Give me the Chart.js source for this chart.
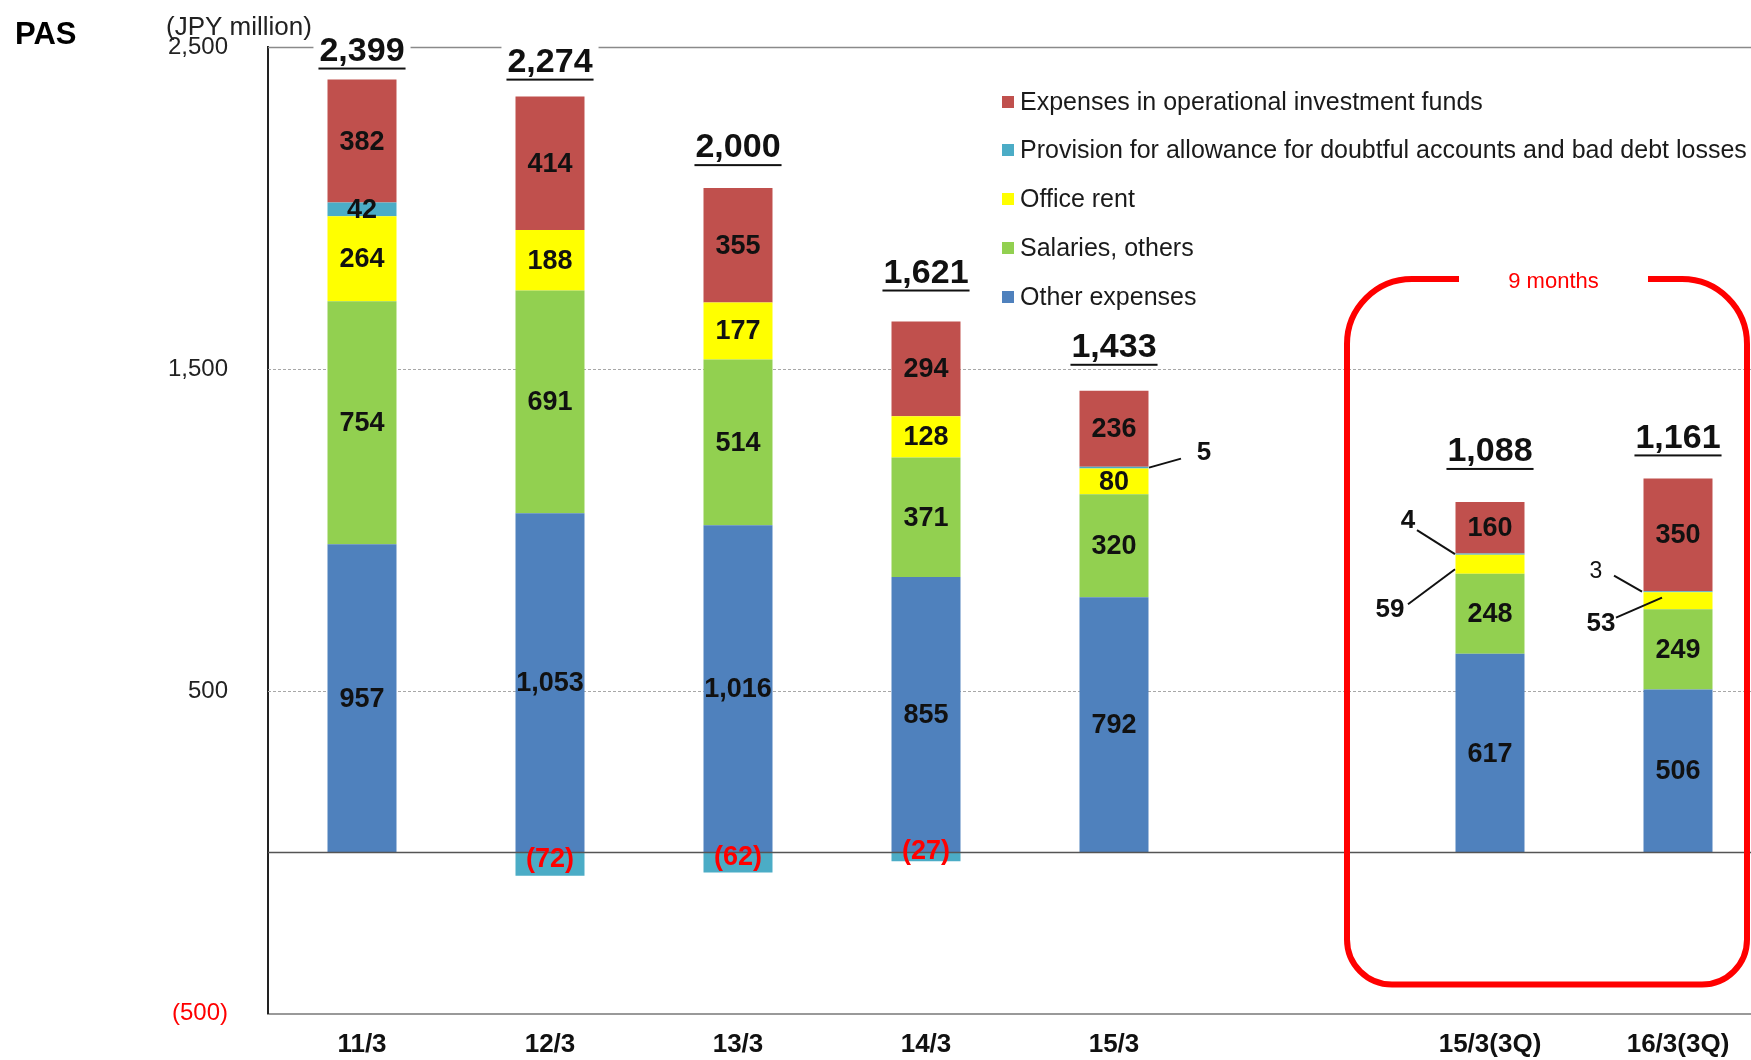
<!DOCTYPE html>
<html>
<head>
<meta charset="utf-8">
<script src="https://cdn.jsdelivr.net/npm/chart.js@4.4.0/dist/chart.umd.min.js"></script>
<style>
  html, body { margin: 0; padding: 0; background: #fff; overflow: hidden; }
  #wrap { position: absolute; left: 0; top: 0; width: 1800px; height: 1060px; }
</style>
</head>
<body>
<div id="wrap"><canvas id="chart" width="1800" height="1060"></canvas></div>
<script>
// fiscal years, with an empty slot before the 9-month figures
const categories = ['11/3', '12/3', '13/3', '14/3', '15/3', '', '15/3(3Q)', '16/3(3Q)'];

const otherExpenses = [957, 1053, 1016, 855, 792, null, 617, 506];
const salaries      = [754, 691, 514, 371, 320, null, 248, 249];
const officeRent    = [264, 188, 177, 128, 80, null, 59, 53];
const provision     = [42, -72, -62, -27, 5, null, 4, 3];
const fundExpenses  = [382, 414, 355, 294, 236, null, 160, 350];

const yTicks = [-500, 500, 1500, 2500];

// gap between the top of the positive stack and the centre of the total label
const totalLift = [29, 35, 41, 49, 44, null, 51, 41];

const FONT = "'Liberation Sans', Arial, sans-serif";

const series = [
    { label: 'Other expenses', data: otherExpenses, color: '#4F81BD' },
    { label: 'Salaries, others', data: salaries, color: '#92D050' },
    { label: 'Office rent', data: officeRent, color: '#FFFF00' },
    { label: 'Provision for allowance for doubtful accounts and bad debt losses', data: provision, color: '#4BACC6' },
    { label: 'Expenses in operational investment funds', data: fundExpenses, color: '#C0504D' }
];

const totals = categories.map((c, i) =>
    series[0].data[i] === null ? null : series.reduce((s, d) => s + d.data[i], 0));

// thin segments labelled outside the bar with a leader line (offsets from bar centre / segment centre)
const callouts = [
    { ds: 3, idx: 4, from: [35, 0],  to: [67, -9],  at: [90, -15],  bold: true,  size: 26 },
    { ds: 3, idx: 6, from: [-35, 0], to: [-73, -24], at: [-82, -33], bold: true, size: 26 },
    { ds: 2, idx: 6, from: [-35, 5], to: [-82, 40], at: [-100, 46], bold: true,  size: 26 },
    { ds: 3, idx: 7, from: [-36, 0], to: [-64, -16], at: [-82, -20], bold: false, size: 23 },
    { ds: 2, idx: 7, from: [-16, -3], to: [-62, 17], at: [-77, 23], bold: true,  size: 26 }
];

const fmt = v => v < 0 ? '(' + Math.abs(v).toLocaleString('en-US') + ')' : v.toLocaleString('en-US');

const decorations = {
    id: 'decorations',
    beforeDatasetsDraw(chart) {
        const { ctx, chartArea, scales: { y } } = chart;
        ctx.save();
        yTicks.forEach(v => {
            if (v === y.min) return;
            const py = Math.round(y.getPixelForValue(v)) + 0.5;
            ctx.beginPath();
            if (v === y.max) {
                ctx.strokeStyle = '#8a8a8a';
                ctx.lineWidth = 1.5;
                ctx.setLineDash([]);
            } else {
                ctx.strokeStyle = '#a8a8a8';
                ctx.lineWidth = 1;
                ctx.setLineDash([3, 2]);
            }
            ctx.moveTo(chartArea.left, py);
            ctx.lineTo(chartArea.right, py);
            ctx.stroke();
        });
        ctx.restore();
    },
    afterDatasetsDraw(chart) {
        const { ctx, chartArea, scales: { x, y } } = chart;
        ctx.save();

        // zero line
        const y0 = y.getPixelForValue(0);
        ctx.strokeStyle = '#555';
        ctx.lineWidth = 1.5;
        ctx.beginPath();
        ctx.moveTo(chartArea.left, y0);
        ctx.lineTo(chartArea.right, y0);
        ctx.stroke();

        // values inside the segments
        ctx.textAlign = 'center';
        ctx.textBaseline = 'middle';
        series.forEach((s, di) => {
            const meta = chart.getDatasetMeta(di);
            s.data.forEach((v, i) => {
                if (v === null) return;
                if (callouts.some(c => c.ds === di && c.idx === i)) return;
                const el = meta.data[i];
                const cy = (el.y + el.base) / 2;
                ctx.font = 'bold 27px ' + FONT;
                ctx.fillStyle = v < 0 ? '#ff0000' : '#111';
                ctx.fillText(fmt(v), el.x, v < 0 ? cy - 5 : cy + 1);
            });
        });

        // leader-line labels
        callouts.forEach(c => {
            const el = chart.getDatasetMeta(c.ds).data[c.idx];
            const cy = (el.y + el.base) / 2;
            ctx.strokeStyle = '#111';
            ctx.lineWidth = 2;
            ctx.beginPath();
            ctx.moveTo(el.x + c.from[0], cy + c.from[1]);
            ctx.lineTo(el.x + c.to[0], cy + c.to[1]);
            ctx.stroke();
            ctx.font = (c.bold ? 'bold ' : '') + c.size + 'px ' + FONT;
            ctx.fillStyle = '#111';
            ctx.fillText(fmt(series[c.ds].data[c.idx]), el.x + c.at[0], cy + c.at[1]);
        });

        // underlined totals above each bar
        const topMeta = chart.getDatasetMeta(series.length - 1);
        totals.forEach((t, i) => {
            if (t === null) return;
            let top = Infinity;
            series.forEach((s, di) => {
                if (s.data[i] > 0) top = Math.min(top, chart.getDatasetMeta(di).data[i].y);
            });
            const cx = topMeta.data[i].x;
            const cy = top - totalLift[i];
            ctx.font = 'bold 34px ' + FONT;
            const w = ctx.measureText(fmt(t)).width;
            ctx.fillStyle = '#fff';
            ctx.fillRect(cx - w / 2 - 6, cy - 20, w + 12, 42);
            ctx.fillStyle = '#111';
            ctx.fillText(fmt(t), cx, cy + 1);
            ctx.fillRect(cx - w / 2 - 1, cy + 17, w + 2, 2);
        });

        // legend, listed top of stack first
        ctx.textAlign = 'left';
        ctx.font = '25px ' + FONT;
        const legendRows = [102, 150, 199, 248, 297];
        series.slice().reverse().forEach((s, k) => {
            const ry = legendRows[k];
            ctx.fillStyle = s.color;
            ctx.fillRect(1002, ry - 6, 12, 12);
            ctx.fillStyle = '#1a1a1a';
            ctx.fillText(s.label, 1020, ry + 1);
        });

        // red frame around the 9-month figures
        const L = x.getPixelForValue(6) - 143;
        const R = x.getPixelForValue(7) + 69;
        const T = y.getPixelForValue(1780);
        const B = y.getPixelForValue(-410);
        const rt = 65, rb = 45;
        const gapL = 1459, gapR = 1648;
        ctx.strokeStyle = '#ff0000';
        ctx.lineWidth = 6;
        ctx.lineJoin = 'round';
        ctx.beginPath();
        ctx.moveTo(gapL, T);
        ctx.lineTo(L + rt, T);
        ctx.arcTo(L, T, L, T + rt, rt);
        ctx.lineTo(L, B - rb);
        ctx.arcTo(L, B, L + rb, B, rb);
        ctx.lineTo(R - rb, B);
        ctx.arcTo(R, B, R, B - rb, rb);
        ctx.lineTo(R, T + rt);
        ctx.arcTo(R, T, R - rt, T, rt);
        ctx.lineTo(gapR, T);
        ctx.stroke();
        ctx.textAlign = 'center';
        ctx.fillStyle = '#ff0000';
        ctx.font = '22px ' + FONT;
        ctx.fillText('9 months', (gapL + gapR) / 2, T + 3);

        // page title and unit
        ctx.textAlign = 'left';
        ctx.fillStyle = '#000';
        ctx.font = 'bold 31px ' + FONT;
        ctx.fillText('PAS', 15, 35);
        ctx.fillStyle = '#222';
        ctx.font = '26px ' + FONT;
        ctx.fillText('(JPY million)', 166, 28);

        ctx.restore();
    }
};

new Chart(document.getElementById('chart'), {
    type: 'bar',
    data: {
        labels: categories,
        datasets: series.map(s => ({
            label: s.label,
            data: s.data,
            backgroundColor: s.color,
            borderWidth: 0,
            barPercentage: 0.367,
            categoryPercentage: 1.0
        }))
    },
    options: {
        responsive: false,
        animation: false,
        layout: { padding: { top: 47, right: 28, left: 0, bottom: 0 } },
        plugins: {
            legend: { display: false },
            tooltip: { enabled: false }
        },
        scales: {
            x: {
                stacked: true,
                grid: { display: false },
                border: { display: true, color: '#999', width: 2 },
                ticks: {
                    color: '#111',
                    padding: 8,
                    font: { family: FONT, size: 26, weight: 'bold' }
                },
                afterFit: scale => { scale.height = 46; }
            },
            y: {
                stacked: true,
                min: -500,
                max: 2500,
                grid: { display: false },
                border: { display: true, color: '#222', width: 2 },
                afterBuildTicks: scale => { scale.ticks = yTicks.map(v => ({ value: v })); },
                ticks: {
                    padding: 32,
                    font: { family: FONT, size: 24 },
                    color: c => c.tick.value < 0 ? '#ff0000' : '#222',
                    callback: v => fmt(v)
                },
                afterFit: scale => { scale.width = 268; }
            }
        }
    },
    plugins: [decorations]
});
</script>
</body>
</html>
